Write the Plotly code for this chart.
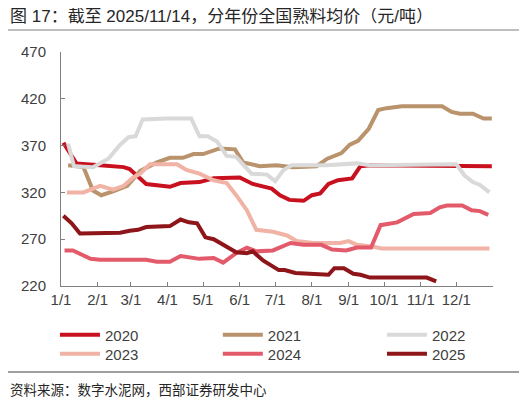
import plotly.graph_objects as go

# every year is drawn on one common calendar (2021, not a leap year)
YEAR = "2021-"

years = ["2020", "2021", "2022", "2023", "2024", "2025"]
colors = ["#C9101F", "#B9936C", "#D9D9D9", "#F0B3A5", "#E35B6A", "#8E1519"]

d2020 = ["01-03", "01-14", "02-03", "02-23", "02-28", "03-14", "04-03", "04-12", "04-28",
         "05-10", "06-01", "06-12", "06-28", "07-05", "07-13", "07-25", "08-01", "08-08",
         "08-15", "08-23", "09-04", "09-11", "09-19", "10-20", "11-20", "12-31"]
v2020 = [373, 351, 349, 347, 345, 329, 326, 330, 331,
         335, 336, 329, 324, 317, 312, 311, 317, 319,
         329, 333, 335, 348, 349, 349, 348, 348]

d2021 = ["01-07", "01-20", "01-28", "02-04", "02-14", "02-26", "03-09", "03-23", "04-03",
         "04-14", "04-23", "05-01", "05-15", "05-28", "06-04", "06-18", "07-02", "07-16",
         "08-05", "08-14", "08-26", "09-02", "09-09", "09-18", "09-26", "10-03", "10-16",
         "11-19", "11-27", "12-04", "12-15", "12-24", "12-31"]
v2021 = [349, 347, 322, 317, 321, 327, 343, 352, 357,
         357, 361, 361, 367, 366, 352, 348, 349, 347,
         348, 356, 362, 371, 375, 388, 408, 410, 412,
         412, 406, 404, 404, 399, 399]

d2022 = ["01-07", "01-12", "01-28", "02-10", "02-20", "02-27", "03-05", "03-11", "03-31",
         "04-21", "04-28", "05-05", "05-13", "05-21", "05-29", "06-11", "06-24", "07-01",
         "07-08", "07-15", "08-13", "08-27", "09-08", "09-19", "12-01", "12-08", "12-15",
         "12-21", "12-29"]
v2022 = [372, 348, 347, 356, 371, 379, 380, 398, 399,
         399, 380, 380, 374, 359, 358, 340, 339, 332,
         344, 349, 349, 350, 351, 349, 350, 338, 331,
         328, 320]

d2023 = ["01-06", "01-20", "02-03", "02-14", "02-23", "03-03", "03-09", "03-17", "03-26",
         "04-09", "04-17", "04-28", "05-10", "05-21", "05-29", "06-07", "06-15", "06-29",
         "07-11", "07-19", "08-02", "08-25", "09-01", "09-08", "09-22", "09-29", "12-29"]
v2023 = [320, 320, 327, 323, 327, 336, 340, 350, 350,
         350, 344, 340, 333, 330, 317, 301, 280, 278,
         274, 268, 266, 266, 268, 264, 262, 260, 260]

d2024 = ["01-04", "01-11", "01-26", "02-03", "03-14", "03-23", "04-03", "04-12", "04-28",
         "05-10", "05-18", "05-29", "06-07", "06-15", "06-29", "07-14", "07-25", "08-09",
         "08-18", "08-30", "09-08", "09-20", "09-28", "10-12", "10-26", "11-09", "11-17",
         "11-23", "12-06", "12-14", "12-21", "12-28"]
v2024 = [258, 258, 249, 248, 248, 246, 246, 252, 249,
         250, 245, 255, 261, 257, 258, 266, 264, 264,
         259, 258, 261, 261, 285, 288, 297, 298, 304,
         306, 306, 301, 300, 296]

d2025 = ["01-03", "01-10", "01-17", "02-03", "02-20", "02-28", "03-07", "03-14", "04-03",
         "04-12", "04-19", "04-26", "05-03", "05-10", "05-21", "05-29", "06-07", "06-12",
         "06-21", "07-04", "07-09", "07-18", "07-30", "08-15", "08-20", "08-28", "09-05",
         "09-11", "09-19", "11-06", "11-14"]
v2025 = [295, 287, 276, 277, 277, 279, 280, 283, 284,
         291, 288, 287, 272, 270, 262, 256, 255, 257,
         247, 237, 237, 234, 233, 232, 239, 239, 233,
         232, 229, 229, 225]

dates = [d2020, d2021, d2022, d2023, d2024, d2025]
values = [v2020, v2021, v2022, v2023, v2024, v2025]

month_ticks = [YEAR + f"{m:02d}-01" for m in range(1, 13)] + ["2022-01-01"]
month_text = [f"{m}/1" for m in range(1, 13)] + [""]

# one legend box per entry, laid out 3 across and 2 down
leg_names = ["legend", "legend2", "legend3", "legend4", "legend5", "legend6"]
leg_x = [-0.014, 0.363, 0.743]
leg_y = [-0.139, -0.220]

fig = go.Figure()
for yr, c, d, v, lg in zip(years, colors, dates, values, leg_names):
    fig.add_trace(go.Scatter(
        x=[YEAR + s for s in d], y=v, name=yr, mode="lines",
        line=dict(color=c, width=4), legend=lg,
    ))

base_font = dict(family="Liberation Sans, Arial, Noto Sans CJK SC", size=15, color="#404040")
legends = {}
for i, lg in enumerate(leg_names):
    legends[lg] = dict(x=leg_x[i % 3], y=leg_y[i // 3], xanchor="left", yanchor="top",
                       bgcolor="rgba(0,0,0,0)", font=base_font, itemwidth=40)

fig.update_layout(
    width=519, height=394,
    margin=dict(l=53, r=34, t=44, b=116),
    paper_bgcolor="white", plot_bgcolor="white",
    font=base_font,
    showlegend=True,
    **legends,
    xaxis=dict(
        type="date", range=["2021-01-01", "2022-01-01"],
        tickvals=month_ticks, ticktext=month_text,
        showgrid=False, zeroline=False,
        showline=True, linecolor="#808080", linewidth=1,
        ticks="inside", ticklen=4, tickcolor="#808080",
        tickfont=dict(size=15, color="#404040"),
    ),
    yaxis=dict(
        range=[220, 470], tickvals=[220, 270, 320, 370, 420, 470],
        showgrid=False, zeroline=False,
        showline=True, linecolor="#808080", linewidth=1,
        ticks="inside", ticklen=4, tickcolor="#808080",
        tickfont=dict(size=15, color="#404040"),
        ticklabelstandoff=11,
    ),
    shapes=[
        dict(type="line", xref="paper", yref="paper", x0=-0.125, x1=1.0625,
             y0=1.094, y1=1.094, line=dict(color="#7F7F7F", width=1.2)),
        dict(type="line", xref="paper", yref="paper", x0=-0.125, x1=1.0625,
             y0=-0.3675, y1=-0.3675, line=dict(color="#404040", width=1.2)),
    ],
    annotations=[
        dict(text="图 17：截至 2025/11/14，分年份全国熟料均价（元/吨）",
             xref="paper", yref="paper", x=-0.122, y=1.155, xanchor="left", yanchor="middle",
             showarrow=False, font=dict(family="Liberation Sans, Noto Sans CJK SC", size=17, color="#262626")),
        dict(text="资料来源：数字水泥网，西部证券研发中心",
             xref="paper", yref="paper", x=-0.122, y=-0.44, xanchor="left", yanchor="middle",
             showarrow=False, font=dict(family="Noto Sans CJK SC", size=13.5, color="#262626")),
    ],
)

fig.write_html("out.html")
